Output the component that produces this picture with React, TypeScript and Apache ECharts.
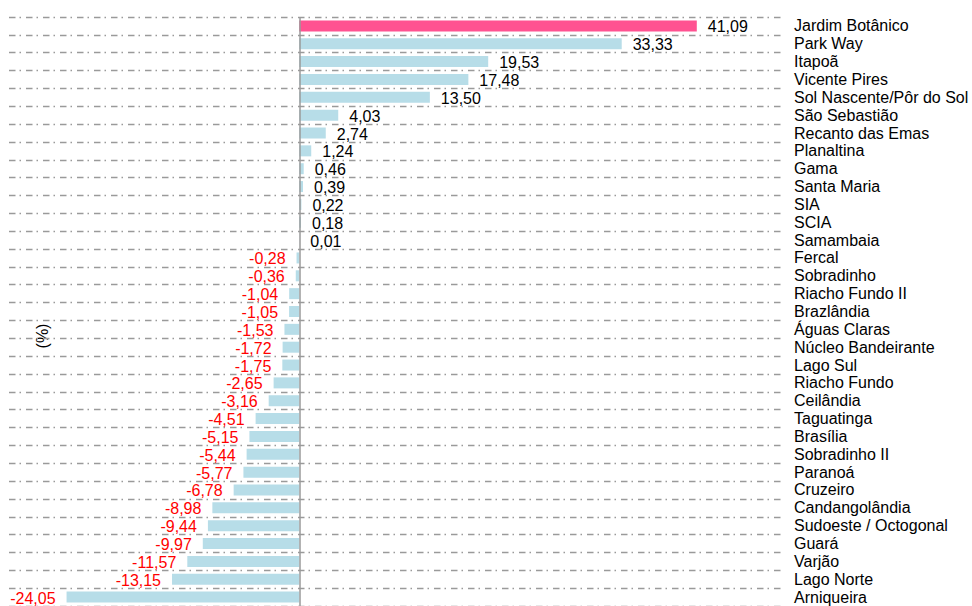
import React, { useEffect, useRef } from "react";
import * as echarts from "echarts";

const categories: string[] = [
  "Jardim Botânico", "Park Way", "Itapoã", "Vicente Pires", "Sol Nascente/Pôr do Sol",
  "São Sebastião", "Recanto das Emas", "Planaltina", "Gama", "Santa Maria", "SIA", "SCIA",
  "Samambaia", "Fercal", "Sobradinho", "Riacho Fundo II", "Brazlândia", "Águas Claras",
  "Núcleo Bandeirante", "Lago Sul", "Riacho Fundo", "Ceilândia", "Taguatinga", "Brasília",
  "Sobradinho II", "Paranoá", "Cruzeiro", "Candangolândia", "Sudoeste / Octogonal", "Guará",
  "Varjão", "Lago Norte", "Arniqueira",
];

const values: number[] = [
  41.09, 33.33, 19.53, 17.48, 13.5, 4.03, 2.74, 1.24, 0.46, 0.39, 0.22, 0.18, 0.01,
  -0.28, -0.36, -1.04, -1.05, -1.53, -1.72, -1.75, -2.65, -3.16, -4.51, -5.15, -5.44,
  -5.77, -6.78, -8.98, -9.44, -9.97, -11.57, -13.15, -24.05,
];

const highlighted = "Jardim Botânico";
const axisTitle = "(%)";

const FONT = "'Liberation Sans', Arial, sans-serif";

export default function App() {
  const ref = useRef<HTMLDivElement>(null);
  useEffect(() => {
    if (!ref.current) return;
    const chart = echarts.init(ref.current, undefined, { renderer: "svg" });
    const data = values.map((v, i) => ({
      value: v,
      itemStyle: { color: categories[i] === highlighted ? "#ff5291" : "#b7dde8" },
      label: {
        show: true,
        position: v >= 0 ? "right" : "left",
        distance: 11,
        offset: [0, 1],
        color: v >= 0 ? "#000000" : "#ff0000",
        fontSize: 16,
        fontFamily: FONT,
        formatter: () => v.toFixed(2).replace(".", ","),
      },
    }));
    chart.setOption({
      animation: false,
      grid: { left: 9, right: 189, top: 17, height: 592, containLabel: false },
      xAxis: {
        type: "value",
        min: -30,
        max: 50,
        show: false,
      },
      yAxis: {
        type: "category",
        data: categories,
        inverse: true,
        position: "right",
        axisLine: { show: false, onZero: false },
        axisTick: { show: false },
        axisLabel: {
          interval: 0,
          hideOverlap: false,
          margin: 11,
          color: "#000000",
          fontSize: 16,
          fontFamily: FONT,
          align: "left",
          padding: [2, 0, 0, 0],
        },
        splitLine: {
          show: true,
          interval: 0,
          lineStyle: { color: "#9a9a9a", width: 1.3, type: [6.5, 4, 1.5, 5] },
        },
      },
      graphic: [
        {
          type: "text",
          x: 42,
          y: 336,
          rotation: Math.PI / 2,
          style: {
            text: axisTitle,
            fontSize: 16,
            fontFamily: FONT,
            fill: "#000000",
            align: "center",
            verticalAlign: "middle",
          },
        },
      ],
      series: [
        {
          type: "bar",
          data,
          barWidth: 11,
          markLine: {
            silent: true,
            symbol: "none",
            label: { show: false },
            lineStyle: { color: "#9a9a9a", width: 1.5, type: "solid" },
            data: [{ xAxis: 0 }],
          },
        },
      ],
    });
    return () => chart.dispose();
  }, []);
  return (
    <div
      ref={ref}
      style={{ position: "fixed", left: 0, top: 0, width: 972, height: 606, background: "#fff" }}
    />
  );
}
